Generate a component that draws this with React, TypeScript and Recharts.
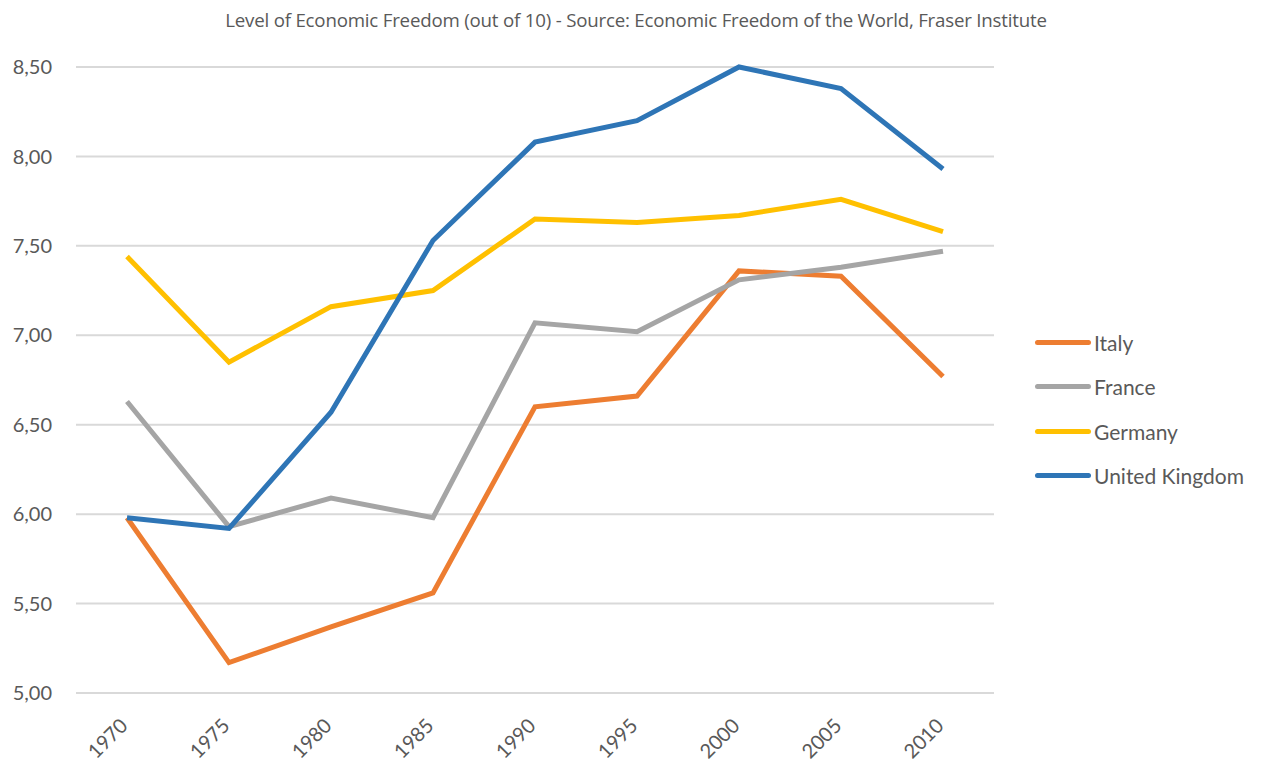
import { LineChart, Line, XAxis, YAxis, CartesianGrid } from "recharts"

const YEARS = ["1970", "1975", "1980", "1985", "1990", "1995", "2000", "2005", "2010"]

const ITALY = [5.98, 5.17, 5.37, 5.56, 6.6, 6.66, 7.36, 7.33, 6.77]
const FRANCE = [6.63, 5.93, 6.09, 5.98, 7.07, 7.02, 7.31, 7.38, 7.47]
const GERMANY = [7.44, 6.85, 7.16, 7.25, 7.65, 7.63, 7.67, 7.76, 7.58]
const UK = [5.98, 5.92, 6.57, 7.53, 8.08, 8.2, 8.5, 8.38, 7.93]

const Y_TICKS = [5, 5.5, 6, 6.5, 7, 7.5, 8, 8.5]

const SERIES = [
  { key: "Italy", values: ITALY, color: "#ED7D31" },
  { key: "France", values: FRANCE, color: "#A5A5A5" },
  { key: "Germany", values: GERMANY, color: "#FFC000" },
  { key: "United Kingdom", values: UK, color: "#2E75B6" }
]

const data = YEARS.map((year, i) => {
  const row: any = { year }
  SERIES.forEach((s) => {
    row[s.key] = s.values[i]
  })
  return row
})

const FONT = "Lato, 'Open Sans', sans-serif"

function YearTick({ x, y, payload }: any) {
  const ax = x + 2
  const ay = y + 26
  return (
    <text
      x={ax}
      y={ay}
      transform={`rotate(-45, ${ax}, ${ay})`}
      textAnchor="end"
      fill="#595959"
      fontSize={20}
      fontFamily={FONT}
    >
      {payload.value}
    </text>
  )
}

// legend drawn by hand so it doesn't eat into the plot width
function LegendBox() {
  return (
    <div
      style={{
        position: "absolute",
        left: 1035,
        top: 320,
        fontFamily: FONT,
        fontSize: 21,
        color: "#595959"
      }}
    >
      {SERIES.map((s) => (
        <div key={s.key} style={{ display: "flex", alignItems: "center", height: 44.5 }}>
          <div
            style={{
              width: 56,
              height: 5,
              borderRadius: 3,
              background: s.color,
              marginRight: 3
            }}
          />
          <span>{s.key}</span>
        </div>
      ))}
    </div>
  )
}

export default function App() {
  return (
    <div style={{ position: "absolute", left: 0, top: 0, width: 1265, height: 762, background: "#fff" }}>
      <div
        style={{
          position: "absolute",
          top: 7,
          left: 0,
          width: 1272,
          textAlign: "center",
          fontFamily: "'Open Sans', sans-serif",
          fontSize: 18.7,
          color: "#595959",
          letterSpacing: -0.2
        }}
      >
        Level of Economic Freedom (out of 10) - Source: Economic Freedom of the World, Fraser Institute
      </div>
      <LineChart
        width={1265}
        height={762}
        data={data}
        margin={{ top: 67, right: 271, bottom: 0, left: 0 }}
        style={{ position: "absolute", left: 0, top: 0 }}
      >
        <CartesianGrid vertical={false} stroke="#D9D9D9" strokeWidth={2} />
        <XAxis
          dataKey="year"
          padding={{ left: 51, right: 51 }}
          axisLine={false}
          tickLine={false}
          tick={<YearTick />}
          height={69}
          interval={0}
        />
        <YAxis
          width={76}
          domain={[5, 8.5]}
          ticks={Y_TICKS}
          axisLine={false}
          tickLine={false}
          tickSize={0}
          tickMargin={24}
          tickFormatter={(v: number) => v.toFixed(2).replace(".", ",")}
          tick={{ fill: "#595959", fontSize: 20, fontFamily: FONT }}
        />
        {SERIES.map((s) => (
          <Line
            key={s.key}
            type="linear"
            dataKey={s.key}
            stroke={s.color}
            strokeWidth={5}
            dot={false}
            isAnimationActive={false}
          />
        ))}
      </LineChart>
      <LegendBox />
    </div>
  )
}
